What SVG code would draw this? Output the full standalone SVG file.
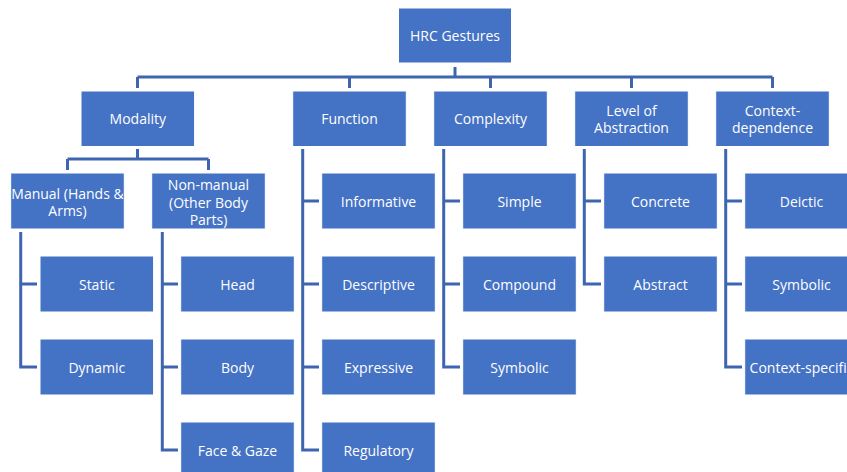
<svg xmlns="http://www.w3.org/2000/svg" width="847" height="472" viewBox="0 0 847 472">
<style>
.box{fill:#4472C4;stroke:#ffffff;stroke-width:1}
.lbl{fill:#ffffff;font-family:"Open Sans","Liberation Sans",sans-serif;font-size:14px;text-anchor:middle;dominant-baseline:central}
.con{fill:none;stroke:#3E66B0;stroke-width:3}
</style>
<rect width="847" height="472" fill="#ffffff"/>
<g id="connectors">
<path class="con" d="M455,67V77M137.5,77H772.5M137.5,77V88M349.5,77V88M490.5,77V88M631.5,77V88M772.5,77V88"/>
<path class="con" d="M137.5,149V159M67.5,159H208.5M67.5,159V170M208.5,159V170"/>
<path class="con" d="M20.7,232V367H37M20.7,284H37"/>
<path class="con" d="M162.3,232V450H178M162.3,284H178M162.3,367H178"/>
<path class="con" d="M302.7,149V450H319M302.7,201H319M302.7,284H319M302.7,367H319"/>
<path class="con" d="M443.7,149V367H460M443.7,201H460M443.7,284H460"/>
<path class="con" d="M584.3,149V284H601M584.3,201H601"/>
<path class="con" d="M725.7,149V367H742M725.7,201H742M725.7,284H742"/>
</g>
<g id="hrc"><rect class="box" x="398.5" y="8" width="113" height="55"/><text class="lbl" x="455" y="35.5">HRC Gestures</text></g>
<g id="modality"><rect class="box" x="81" y="91" width="113.6" height="55.5"/><text class="lbl" x="137.8" y="118.8">Modality</text></g>
<g id="function"><rect class="box" x="292.7" y="91" width="113.6" height="55.5"/><text class="lbl" x="349.5" y="118.8">Function</text></g>
<g id="complexity"><rect class="box" x="433.7" y="91" width="113.6" height="55.5"/><text class="lbl" x="490.5" y="118.8">Complexity</text></g>
<g id="level"><rect class="box" x="574.7" y="91" width="113.6" height="55.5"/><text class="lbl"><tspan x="631.5" y="110">Level of</tspan><tspan x="631.5" y="127">Abstraction</tspan></text></g>
<g id="context"><rect class="box" x="715.7" y="91" width="113.6" height="55.5"/><text class="lbl"><tspan x="772.5" y="110">Context-</tspan><tspan x="772.5" y="127">dependence</tspan></text></g>
<g id="manual"><rect class="box" x="10.7" y="173" width="113.6" height="56"/><text class="lbl"><tspan x="67.5" y="192.5">Manual (Hands &amp;</tspan><tspan x="67.5" y="209.5">Arms)</tspan></text></g>
<g id="nonmanual"><rect class="box" x="151.7" y="173" width="113.6" height="56"/><text class="lbl"><tspan x="208.5" y="184.3">Non-manual</tspan><tspan x="208.5" y="201.6">(Other Body</tspan><tspan x="208.5" y="219">Parts)</tspan></text></g>
<g id="static"><rect class="box" x="40" y="256" width="113.6" height="56"/><text class="lbl" x="96.8" y="284">Static</text></g>
<g id="dynamic"><rect class="box" x="40" y="339" width="113.6" height="56"/><text class="lbl" x="96.8" y="367">Dynamic</text></g>
<g id="head"><rect class="box" x="180.7" y="256" width="113.6" height="56"/><text class="lbl" x="237.5" y="284">Head</text></g>
<g id="body"><rect class="box" x="180.7" y="339" width="113.6" height="56"/><text class="lbl" x="237.5" y="367">Body</text></g>
<g id="facegaze"><rect class="box" x="180.7" y="422" width="113.6" height="56"/><text class="lbl" x="237.5" y="450">Face &amp; Gaze</text></g>
<g id="informative"><rect class="box" x="321.7" y="173" width="113.6" height="56"/><text class="lbl" x="378.5" y="201">Informative</text></g>
<g id="descriptive"><rect class="box" x="321.7" y="256" width="113.6" height="56"/><text class="lbl" x="378.5" y="284">Descriptive</text></g>
<g id="expressive"><rect class="box" x="321.7" y="339" width="113.6" height="56"/><text class="lbl" x="378.5" y="367">Expressive</text></g>
<g id="regulatory"><rect class="box" x="321.7" y="422" width="113.6" height="56"/><text class="lbl" x="378.5" y="450">Regulatory</text></g>
<g id="simple"><rect class="box" x="462.7" y="173" width="113.6" height="56"/><text class="lbl" x="519.5" y="201">Simple</text></g>
<g id="compound"><rect class="box" x="462.7" y="256" width="113.6" height="56"/><text class="lbl" x="519.5" y="284">Compound</text></g>
<g id="symbolic1"><rect class="box" x="462.7" y="339" width="113.6" height="56"/><text class="lbl" x="519.5" y="367">Symbolic</text></g>
<g id="concrete"><rect class="box" x="603.7" y="173" width="113.6" height="56"/><text class="lbl" x="660.5" y="201">Concrete</text></g>
<g id="abstract"><rect class="box" x="603.7" y="256" width="113.6" height="56"/><text class="lbl" x="660.5" y="284">Abstract</text></g>
<g id="deictic"><rect class="box" x="744.7" y="173" width="113.6" height="56"/><text class="lbl" x="801.5" y="201">Deictic</text></g>
<g id="symbolic2"><rect class="box" x="744.7" y="256" width="113.6" height="56"/><text class="lbl" x="801.5" y="284">Symbolic</text></g>
<g id="contextspecific"><rect class="box" x="744.7" y="339" width="113.6" height="56"/><text class="lbl" x="801.5" y="367">Context-specific</text></g>
</svg>
